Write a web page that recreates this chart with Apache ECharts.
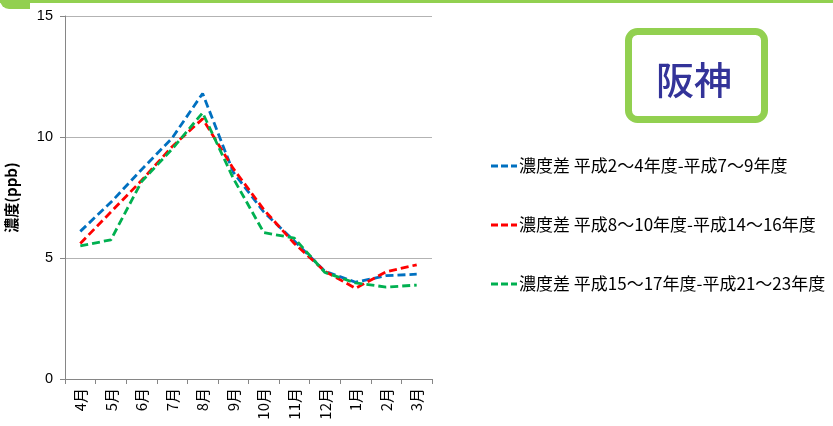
<!DOCTYPE html>
<html><head><meta charset="utf-8">
<script src="https://cdn.jsdelivr.net/npm/echarts@6/dist/echarts.min.js"></script>
<style>html,body{margin:0;padding:0;background:#fff}#c{width:833px;height:426px}</style>
</head><body><div id="c"></div>
<script>
const months = ['4月','5月','6月','7月','8月','9月','10月','11月','12月','1月','2月','3月'];
const seriesNames = ['濃度差 平成2～4年度-平成7～9年度','濃度差 平成8～10年度-平成14～16年度','濃度差 平成15～17年度-平成21～23年度'];
const blueVals  = [6.1, 7.3, 8.65, 9.95, 11.8, 8.55, 6.9, 5.7, 4.45, 4.0, 4.27, 4.33];
const redVals   = [5.6, 6.9, 8.2, 9.6, 10.75, 8.7, 7.0, 5.6, 4.45, 3.75, 4.43, 4.72];
const greenVals = [5.5, 5.75, 8.15, 9.5, 11.0, 8.3, 6.05, 5.82, 4.4, 3.97, 3.8, 3.88];
const yTicks = [0, 5, 10, 15];
const colors = ['#0070C0','#FF0000','#00B050'];
const font = '"Noto Sans CJK JP", "Liberation Sans", sans-serif';
const dashIcon = 'path://M0,0h7v3h-7zM10,0h7v3h-7zM20,0h6v3h-6z';

const chart = echarts.init(document.getElementById('c'), null, {renderer:'canvas'});
const mk = (i, data) => ({
  name: seriesNames[i], type:'line', data, symbol:'none', silent:true,
  lineStyle:{color:colors[i], width:2.8, type:[8,4]},
  itemStyle:{color:colors[i]}
});
chart.setOption({
  animation:false,
  textStyle:{fontFamily:font},
  grid:{left:65, right:401, top:16, bottom:47},
  xAxis:{type:'category', data:months, boundaryGap:true,
    axisLine:{lineStyle:{color:'#868686'}},
    axisTick:{show:true, length:5, lineStyle:{color:'#868686'}},
    axisLabel:{rotate:90, fontSize:15, color:'#000', margin:9, fontFamily:font}},
  yAxis:{type:'value', min:yTicks[0], max:yTicks[yTicks.length-1], interval:5,
    name:'濃度(ppb)', nameLocation:'middle', nameGap:46, nameRotate:90,
    nameTextStyle:{fontSize:15, fontWeight:'bold', color:'#000', fontFamily:font},
    axisLine:{show:true, lineStyle:{color:'#868686'}},
    axisTick:{show:true, length:5, lineStyle:{color:'#868686'}},
    axisLabel:{fontSize:14.5, color:'#000', margin:12, fontFamily:'"Liberation Sans", sans-serif'},
    splitLine:{lineStyle:{color:'#b3b3b3', width:1}}},
  legend:{orient:'vertical', left:486, top:150, itemGap:37, itemWidth:26, itemHeight:3,
    data:seriesNames.map(n=>({name:n, icon:dashIcon})),
    textStyle:{fontSize:17, color:'#000', fontFamily:font, lineHeight:22, padding:[0,0,0,-3]},
    selectedMode:false},
  series:[mk(0, blueVals), mk(1, redVals), mk(2, greenVals)],
  graphic:[
    {type:'rect', shape:{x:0,y:0,width:833,height:3}, style:{fill:'#92D050'}},
    {type:'rect', shape:{x:0,y:0,width:30,height:9,r:[0,0,0,30]}, style:{fill:'#92D050'}},
    {type:'rect', shape:{x:628.5,y:31.5,width:136,height:88,r:9}, style:{fill:'#fff', stroke:'#92D050', lineWidth:7}},
    {type:'text', x:694, y:80, style:{text:'阪神', font:'500 38px "Noto Sans CJK JP"', fill:'#333399', textAlign:'center', textVerticalAlign:'middle'}}
  ]
});
</script></body></html>
